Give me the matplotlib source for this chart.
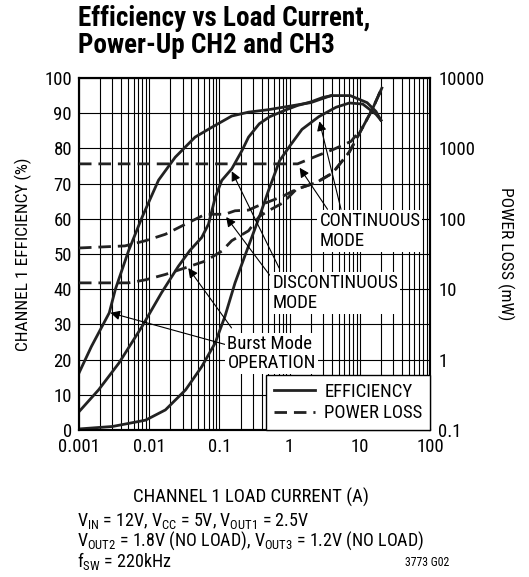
import matplotlib
matplotlib.use("Agg")
import matplotlib.pyplot as plt
from matplotlib.ticker import LogLocator, NullFormatter, FixedLocator
from matplotlib.lines import Line2D

plt.rcParams['font.family'] = ['Roboto Condensed', 'DejaVu Sans']
plt.rcParams['mathtext.fontset'] = 'custom'
plt.rcParams['mathtext.rm'] = 'Roboto Condensed'
plt.rcParams['mathtext.it'] = 'Roboto Condensed'

# efficiency curves (load current A, efficiency %)
burst_x = [0.001, 0.0015, 0.0027, 0.0033, 0.0051, 0.0079, 0.0136, 0.0235, 0.045, 0.078,
           0.15, 0.26, 0.5, 1.0, 2.0, 3.9, 7.3, 12.7, 17, 20]
burst_eff = [16.2, 23.7, 33.3, 40, 51, 60.4, 71, 77.5, 83.2, 86,
             89.2, 90.3, 91, 92, 93, 95, 95, 93, 90.5, 88]

disc_x = [0.001, 0.0019, 0.0037, 0.0079, 0.015, 0.026, 0.038, 0.056, 0.07, 0.087, 0.108,
          0.15, 0.21, 0.26, 0.37, 0.52, 0.9, 1.3, 2.0, 3.0, 4.0]
disc_eff = [5.2, 11.4, 19, 29.4, 39, 46.5, 51, 54.7, 58.5, 66, 70.9,
            74.2, 79.4, 83.2, 87, 89, 91, 92.2, 93.2, 94.5, 95]

cont_x = [0.001, 0.003, 0.0089, 0.017, 0.033, 0.056, 0.087, 0.12, 0.167, 0.23, 0.37,
          0.5, 0.72, 1.0, 1.5, 2.6, 4.6, 7.1, 11, 17, 20]
cont_eff = [0.3, 1, 2.8, 5.7, 11.4, 18, 24.7, 32.3, 41.8, 49.4, 60.5,
            68, 76.5, 80.6, 85.4, 89, 91.7, 92.9, 92.6, 89.7, 88]

# power loss curves (load current A, mW)
burst_loss_x = [0.001, 0.0051, 0.0089, 0.017, 0.033, 0.063, 0.108, 0.15, 0.26, 0.37, 0.52,
                0.8, 1.25, 2.4, 4.1, 7.1, 11, 15, 21]
burst_loss = [12.3, 12.3, 13.6, 16.2, 20.2, 25.1, 34.7, 48.9, 67.6, 108, 133,
              168, 263, 327, 447, 891, 2000, 3550, 7500]

disc_loss_x = [0.001, 0.0045, 0.0089, 0.017, 0.033, 0.063, 0.12, 0.167, 0.26, 0.34, 0.8,
               1.25, 2.4, 4.1, 7.1, 11, 15, 21]
disc_loss = [38.5, 41.2, 48.9, 60.3, 84.1, 116, 116, 130, 133, 150, 209,
             263, 327, 447, 891, 2000, 3550, 7500]

cont_loss_x = [0.001, 1.3, 2.4, 4.3, 7.5, 11, 15, 21]
cont_loss = [603, 603, 776, 977, 1259, 2000, 3550, 7500]

x_ticks = [0.001, 0.01, 0.1, 1, 10, 100]
x_labels = ['0.001', '0.01', '0.1', '1', '10', '100']
y_ticks = list(range(0, 101, 10))
loss_ticks = [0.1, 1, 10, 100, 1000, 10000]
loss_labels = ['0.1', '1', '10', '100', '1000', '10000']

fig = plt.figure(figsize=(5.29, 5.77), dpi=100)
ax = fig.add_axes([79/529, 1 - 430/577, 351/529, 352/577])

lw = 2.0
ink = '#222222'
dash = (0, (4.5, 2.5))
ax.plot(burst_x, burst_eff, color=ink, lw=lw, zorder=3)
ax.plot(disc_x, disc_eff, color=ink, lw=lw, zorder=3)
ax.plot(cont_x, cont_eff, color=ink, lw=lw, zorder=3)

ax.set_xscale('log')
ax.set_xlim(0.001, 100)
ax.set_ylim(0, 100)
ax.set_xticks(x_ticks)
ax.set_xticklabels(x_labels)
ax.xaxis.set_minor_locator(LogLocator(base=10, subs=range(2, 10)))
ax.xaxis.set_minor_formatter(NullFormatter())
ax.set_yticks(y_ticks)
ax.grid(True, which='both', axis='x', color='black', lw=0.8)
ax.grid(True, which='major', axis='y', color='black', lw=0.8)
ax.tick_params(which='both', length=0, labelsize=13.5, pad=5)
ax.tick_params(axis='x', pad=6)
for s in ax.spines.values():
    s.set_linewidth(1.5)

ax2 = ax.twinx()
ax2.set_yscale('log')
ax2.set_ylim(0.1, 10000)
ax2.plot(burst_loss_x, burst_loss, color=ink, lw=lw, ls=dash, zorder=3)
ax2.plot(disc_loss_x, disc_loss, color=ink, lw=lw, ls=dash, zorder=3)
ax2.plot(cont_loss_x, cont_loss, color=ink, lw=lw, ls=dash, zorder=3)
ax2.yaxis.set_major_locator(FixedLocator(loss_ticks))
ax2.set_yticklabels(loss_labels)
ax2.yaxis.set_minor_locator(FixedLocator([]))
ax2.tick_params(which='both', length=0, labelsize=13.5, pad=6)
for s in ax2.spines.values():
    s.set_linewidth(1.5)

ax.set_ylabel('CHANNEL 1 EFFICIENCY (%)', fontsize=12.5)
ax.yaxis.set_label_coords(-0.134, 0.5)
ax2.set_ylabel('POWER LOSS (mW)', fontsize=12.5, rotation=-90, va='center')
ax2.yaxis.set_label_coords(1.215, 0.5)
ax.set_xlabel('CHANNEL 1 LOAD CURRENT (A)', fontsize=13.5)
ax.xaxis.set_label_coords(0.49, -0.165)

# annotations
box = dict(facecolor='white', edgecolor='none', pad=1.5)
arrow = dict(arrowstyle='-|>', color='black', lw=0.8, mutation_scale=14,
             shrinkA=0, shrinkB=0)
txt_kw = dict(fontsize=13.5, ha='left', va='top', linespacing=1.1, bbox=box, zorder=6)


def pct(v):
    return 10 ** (-1 + v / 20)


ax2.text(2.66, pct(61.8), 'CONTINUOUS\nMODE', **txt_kw)
ax2.text(0.57, pct(44.2), 'DISCONTINUOUS\nMODE', **txt_kw)
ax2.text(0.13, pct(27), 'Burst Mode\nOPERATION', **txt_kw)

arrows = [
    ((1.39, 74.5), (3.47, 62.7)),
    ((2.66, 87.7), (5.4, 62.7)),
    ((0.15, 73.5), (0.71, 46)),
    ((0.125, 60.5), (0.52, 44)),
    ((0.0028, 33.3), (0.126, 24.2)),
    ((0.036, 46), (0.149, 29)),
]
for tip, tail in arrows:
    ax2.annotate('', xy=(tip[0], pct(tip[1])), xytext=(tail[0], pct(tail[1])),
                 arrowprops=arrow, zorder=5)

handles = [Line2D([], [], color=ink, lw=lw),
           Line2D([], [], color=ink, lw=lw, ls=dash)]
leg = ax2.legend(handles, ['EFFICIENCY', 'POWER LOSS'], loc='lower right',
                 fontsize=13.5, frameon=True, fancybox=False, borderaxespad=0,
                 handlelength=2.2, handletextpad=0.5, labelspacing=0.2,
                 borderpad=0.4)
leg.get_frame().set_edgecolor('black')
leg.get_frame().set_linewidth(1.0)
leg.get_frame().set_alpha(1)
leg.set_zorder(10)

fig.text(78/529, 1 - 5/577, 'Efficiency vs Load Current,\nPower-Up CH2 and CH3',
         fontsize=19.5, fontweight='bold', ha='left', va='top', linespacing=0.98)

note_kw = dict(fontsize=13, ha='left', va='baseline')
fig.text(77/529, 1 - 526/577,
         'V$_\\mathrm{IN}$ = 12V, V$_\\mathrm{CC}$ = 5V, V$_\\mathrm{OUT1}$ = 2.5V', **note_kw)
fig.text(77/529, 1 - 546/577,
         'V$_\\mathrm{OUT2}$ = 1.8V (NO LOAD), V$_\\mathrm{OUT3}$ = 1.2V (NO LOAD)', **note_kw)
fig.text(77/529, 1 - 567/577, 'f$_\\mathrm{SW}$ = 220kHz', **note_kw)
fig.text(449/529, 1 - 566/577, '3773 G02', fontsize=8.5, ha='right', va='baseline')

fig.savefig('out.png', dpi=100)
